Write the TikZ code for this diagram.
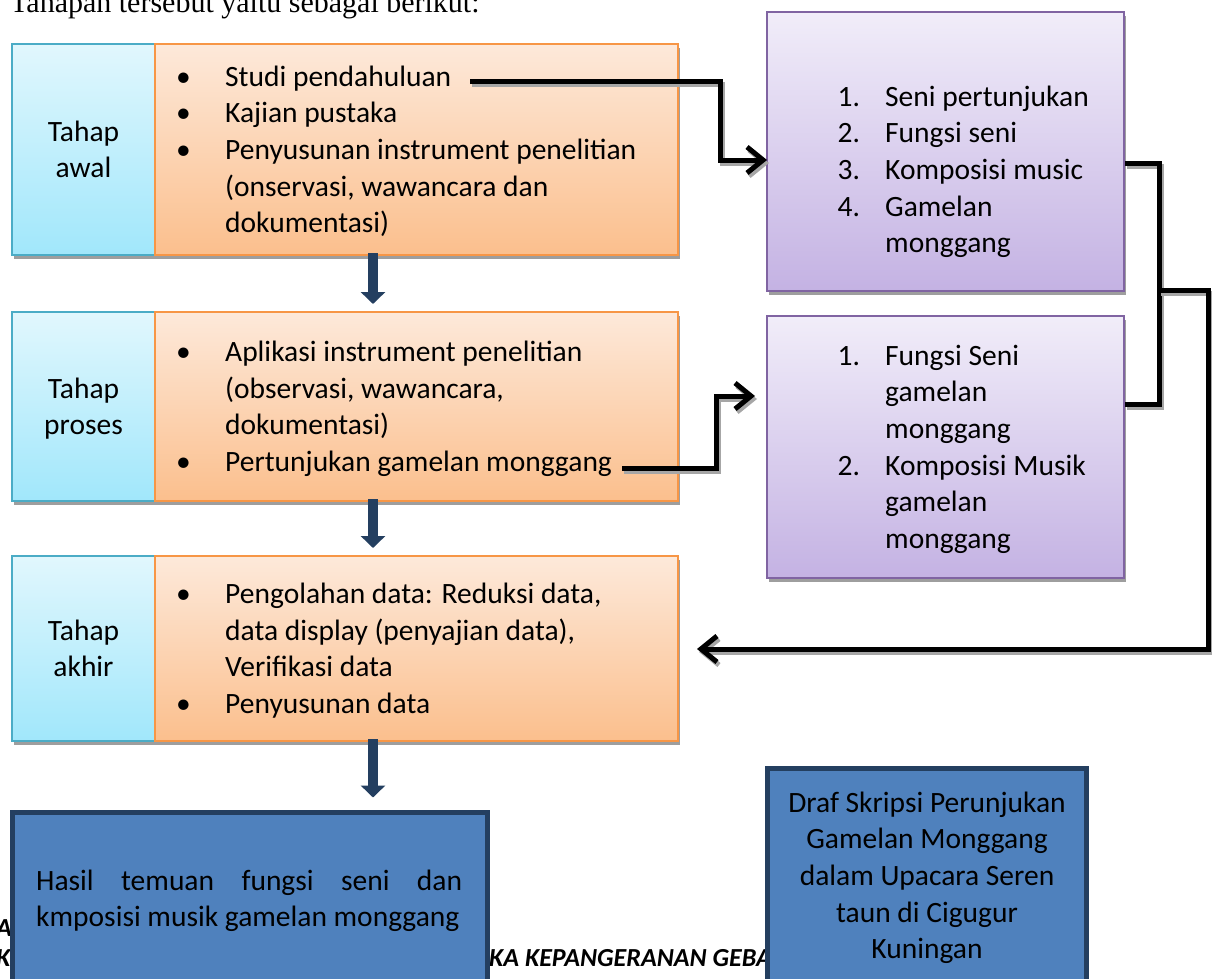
\documentclass[tikz,border=0pt]{standalone}
\usepackage{fontspec}
\setmainfont{Carlito}
\newfontfamily\tnr{Liberation Serif}
\usetikzlibrary{arrows.meta,shadows}
\definecolor{cyanLine}{HTML}{4BACC6}
\definecolor{cyanTop}{HTML}{E1F7FD}
\definecolor{cyanBot}{HTML}{A1E7FB}
\definecolor{orLine}{HTML}{F79646}
\definecolor{orTop}{HTML}{FDE9DA}
\definecolor{orBot}{HTML}{FBBF8D}
\definecolor{puLine}{HTML}{8064A2}
\definecolor{puTop}{HTML}{F1EDF9}
\definecolor{puBot}{HTML}{C4B2E3}
\definecolor{blFill}{HTML}{4F81BD}
\definecolor{blLine}{HTML}{243F60}
\definecolor{navy}{HTML}{243F60}
\newcommand\st{\rule[-8.3pt]{0pt}{36.6pt}}
\newcommand\bul{\makebox[49pt][l]{\textbullet}}
\newcommand\ind{\hspace*{49pt}}
\newcommand\nm[1]{\makebox[47.5pt][l]{#1}}
\newcommand\pind{\hspace*{47.5pt}}
\tikzset{
  bodyfont/.style={font=\fontsize{29.5}{36.6}\selectfont},
  boxshadow/.style={drop shadow={shadow xshift=1.5pt,shadow yshift=-4pt,fill=black!38,opacity=1}},
  stagebox/.style={draw=cyanLine, line width=2pt, top color=cyanTop, bottom color=cyanBot,
    minimum width=143pt, inner sep=0pt, align=center, bodyfont, boxshadow},
  actbox/.style={draw=orLine, line width=2pt, top color=orTop, bottom color=orBot,
    minimum width=523pt, inner sep=0pt, boxshadow},
  purbox/.style={draw=puLine, line width=2pt, top color=puTop, bottom color=puBot,
    minimum width=357pt, inner sep=0pt, boxshadow},
  resbox/.style={draw=blLine, line width=5pt, fill=blFill, inner sep=0pt},
  txt/.style={inner sep=0pt, align=left, bodyfont},
  foot/.style={inner sep=0pt, font=\bfseries\itshape\fontsize{26}{30}\selectfont},
  conn/.style={line width=5pt, black},
  connshadow/.style={line width=5pt, black!35, transform canvas={shift={(2pt,-3pt)}}},
  barb/.style={-{Straight Barb[length=16pt,width=26pt]}},
  downarr/.style={draw=navy, line width=10pt, -{Triangle[length=12pt,width=24pt]}},
}
\begin{document}
\begin{tikzpicture}[x=1pt,y=-1pt]
\useasboundingbox (0,0) rectangle (1212,979);
\clip (0,0) rectangle (1212,979);
\fill[white] (0,0) rectangle (1212,979);

% intro line (cut at the top)
\node[anchor=base west, inner sep=0pt, font=\tnr\fontsize{30}{36}\selectfont] (intro) at (10,12.5) {Tahapan tersebut yaitu sebagai berikut:};

% footer fragments (behind the result boxes)
\node[foot, anchor=base west] (fa) at (-4,936) {A};
\node[foot, anchor=base west] (fk) at (-4,966) {K};
\node[foot, anchor=base west] (fk2) at (489,966) {KA KEPANGERANAN GEBA};

% row 1
\node[stagebox, minimum height=211pt] (l1) at (83.5,149.5) {\st Tahap\\ \st awal};
\node[actbox, minimum height=211pt] (o1) at (416.5,149.5) {};
\node[txt, anchor=west] (t1) at (176,149.5) {\st\bul Studi pendahuluan\\ \st\bul Kajian pustaka\\ \st\bul Penyusunan instrument penelitian\\ \st\ind (onservasi, wawancara dan\\ \st\ind dokumentasi)};

% row 2
\node[stagebox, minimum height=189pt] (l2) at (83.5,406.5) {\st Tahap\\ \st proses};
\node[actbox, minimum height=189pt] (o2) at (416.5,406.5) {};
\node[txt, anchor=west] (t2) at (176,406.5) {\st\bul Aplikasi instrument penelitian\\ \st\ind (observasi, wawancara,\\ \st\ind dokumentasi)\\ \st\bul Pertunjukan gamelan monggang};

% row 3
\node[stagebox, minimum height=185pt] (l3) at (83.5,648.5) {\st Tahap\\ \st akhir};
\node[actbox, minimum height=185pt] (o3) at (416.5,648.5) {};
\node[txt, anchor=west] (t3) at (176,648.5) {\st\bul Pengolahan data: Reduksi data,\\ \st\ind data display (penyajian data),\\ \st\ind Verifikasi data\\ \st\bul Penyusunan data};

% purple boxes
\node[purbox, minimum height=279pt] (p1) at (945.5,151.5) {};
\node[txt, anchor=north west] (p1t) at (837.5,77.7) {\st\nm{1.}Seni pertunjukan\\ \st\nm{2.}Fungsi seni\\ \st\nm{3.}Komposisi music\\ \st\nm{4.}Gamelan\\ \st\pind monggang};
\node[purbox, minimum height=262pt] (p2) at (945.5,447) {};
\node[txt, anchor=north west] (p2t) at (837.5,336.7) {\st\nm{1.}Fungsi Seni\\ \st\pind gamelan\\ \st\pind monggang\\ \st\nm{2.}Komposisi Musik\\ \st\pind gamelan\\ \st\pind monggang};

% result boxes
\node[resbox, minimum width=475pt, minimum height=190pt] (b1) at (249.5,907) {};
\node[txt, anchor=north west] (b1t) at (36,861.7) {\st\makebox[426pt][s]{Hasil temuan fungsi seni dan}\\ \st kmposisi musik gamelan monggang};
\node[resbox, minimum width=319pt, minimum height=230pt] (b2) at (927,883) {};
\node[txt, anchor=north, align=center] (b2t) at (927,783.7) {\st Draf Skripsi Perunjukan\\ \st Gamelan Monggang\\ \st dalam Upacara Seren\\ \st taun di Cigugur\\ \st Kuningan};

% down arrows
\draw[downarr, shorten <=-3pt, shorten >=7pt] (o1.south -| 373,0) -- (o2.north -| 373,0);
\draw[downarr, shorten <=-3pt, shorten >=7pt] (o2.south -| 373,0) -- (o3.north -| 373,0);
\draw[downarr, shorten <=-3pt, shorten >=12pt] (o3.south -| 373,0) -- (b1.north -| 373,0);

% connectors
\coordinate (c1) at (470,82);
\coordinate (e1) at (767,160);
\coordinate (c2) at (622,468);
\coordinate (e2) at (755,396);
\coordinate (e3) at (697,649);
\coordinate (j1) at (1159,290);

\draw[connshadow, barb] (c1) -- (720,82) -- (720,160) -- (e1);
\draw[conn, barb] (c1) -- (720,82) -- (720,160) -- (e1);
\draw[connshadow, barb] (c2) -- (716,468) -- (716,396) -- (e2);
\draw[conn, barb] (c2) -- (716,468) -- (716,396) -- (e2);
\draw[connshadow] (p1.east |- 0,163) -- (1159,163) -- (1159,404) -- (p2.east |- 0,404);
\draw[conn] (p1.east |- 0,163) -- (1159,163) -- (1159,404) -- (p2.east |- 0,404);
\draw[connshadow, barb] (j1) -- (1208,290) -- (1208,649) -- (e3);
\draw[conn, barb] (j1) -- (1208,290) -- (1208,649) -- (e3);
\end{tikzpicture}
\end{document}
